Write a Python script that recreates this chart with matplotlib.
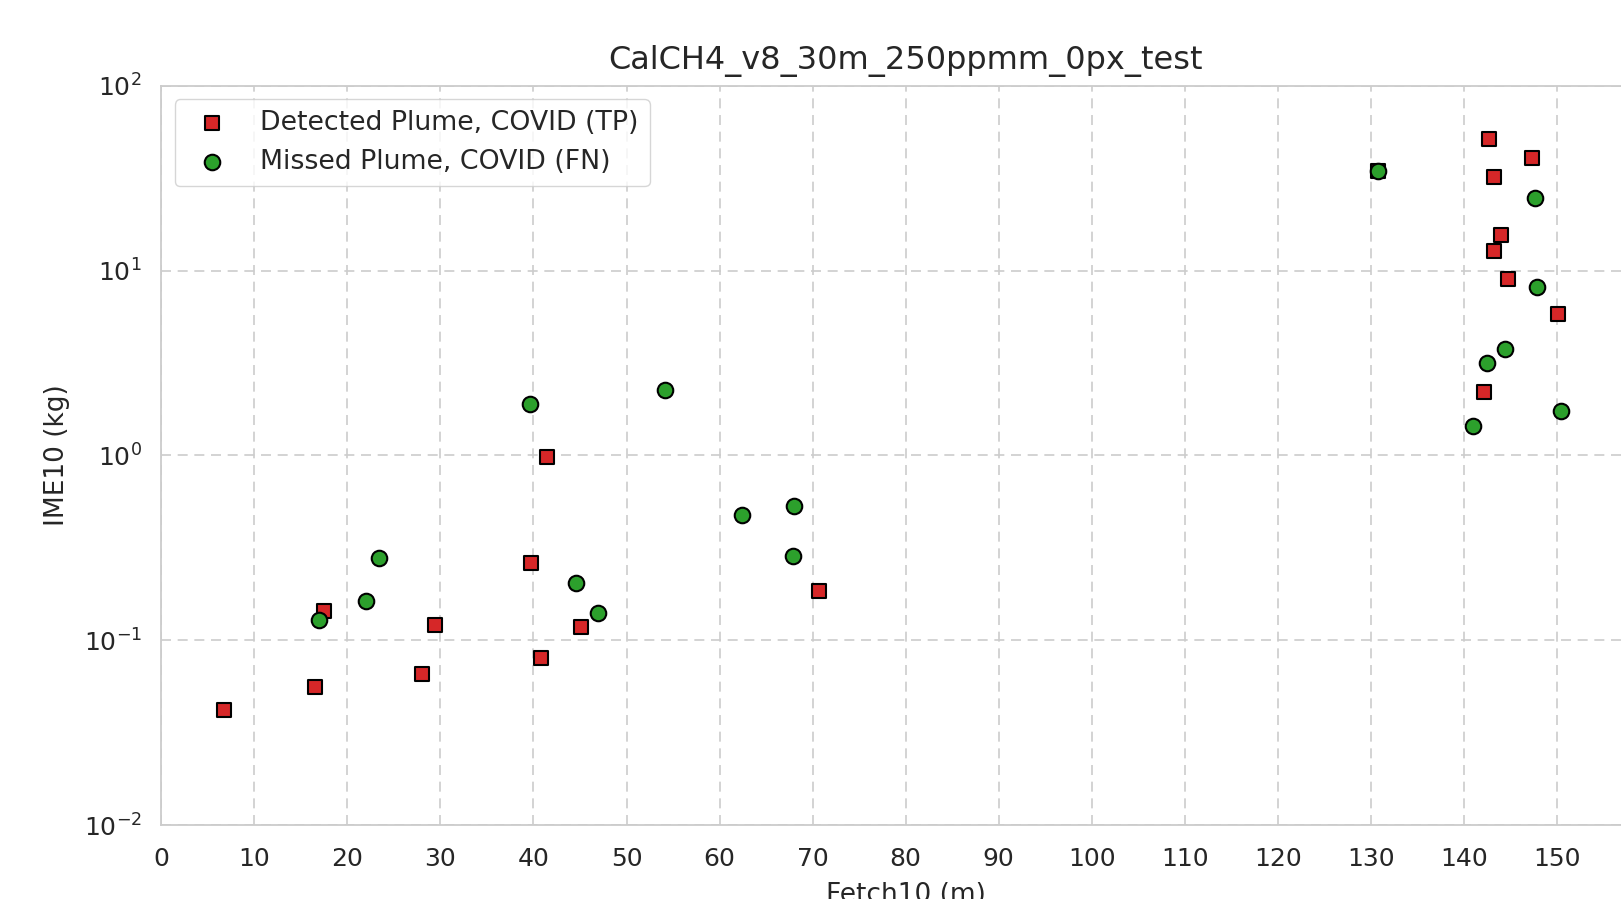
import matplotlib
matplotlib.use("Agg")
import matplotlib.pyplot as plt
import seaborn as sns


# detected plumes (true positives)
tp_fetch = [6.7, 16.5, 17.5, 28.0, 29.4, 39.7, 40.8, 41.5, 45.1, 70.7,
            130.8, 142.2, 142.7, 143.2, 143.2, 144.0, 144.7, 147.3, 150.1]
tp_ime = [0.042, 0.056, 0.144, 0.066, 0.121, 0.262, 0.080, 0.98, 0.118, 0.185,
          34.6, 2.19, 51.3, 32.0, 12.8, 15.6, 9.0, 40.7, 5.8]

# missed plumes (false negatives)
fn_fetch = [17.0, 22.0, 23.4, 39.6, 44.6, 46.9, 54.1, 62.4, 67.9, 68.0,
            130.8, 141.0, 142.5, 144.4, 147.6, 147.8, 150.4]
fn_ime = [0.129, 0.162, 0.277, 1.89, 0.204, 0.140, 2.25, 0.476, 0.286, 0.535,
          34.6, 1.44, 3.16, 3.78, 24.7, 8.15, 1.74]

title = "CalCH4_v8_30m_250ppmm_0px_test"


def plot_fetch_ime():
    sns.set_theme(style="whitegrid")
    plt.rcParams['font.family'] = ['DejaVu Sans']

    fig = plt.figure(figsize=(16.21, 8.99), dpi=100)
    # the axes run past the right edge, as in the cropped original
    ax = fig.add_axes([0.0995, 0.0823, 0.9184, 0.8223])

    ax.scatter(tp_fetch, tp_ime, marker='s', s=115, color='#d62728',
               edgecolors='black', linewidths=1.5, zorder=3,
               label='Detected Plume, COVID (TP)')
    ax.scatter(fn_fetch, fn_ime, marker='o', s=125, color='#2ca02c',
               edgecolors='black', linewidths=1.5, zorder=3,
               label='Missed Plume, COVID (FN)')

    ax.set_yscale('log')
    ax.set_ylim(1e-2, 1e2)
    ax.set_xlim(0, 160)
    ax.set_xticks(range(0, 151, 10))

    ax.grid(True, linestyle=(0, (6, 4)), linewidth=1.2, color='#cccccc')
    for spine in ax.spines.values():
        spine.set_linewidth(1.3)
        spine.set_color('#cccccc')

    ax.tick_params(axis='x', labelsize=18, pad=10)
    ax.tick_params(axis='y', labelsize=18, pad=8)
    ax.set_xlabel('Fetch10 (m)', fontsize=19, labelpad=8)
    ax.set_ylabel('IME10 (kg)', fontsize=19, labelpad=10)
    ax.set_title(title, fontsize=23, pad=12)

    ax.legend(loc='upper left', fontsize=19.3, frameon=True)

    fig.savefig('out.png', dpi=100)


plot_fetch_ime()
